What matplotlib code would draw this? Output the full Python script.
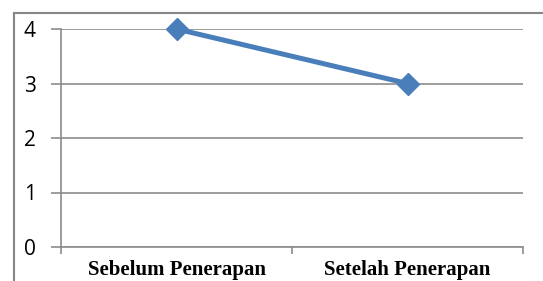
import matplotlib.pyplot as plt
from matplotlib.lines import Line2D

# data
categories = ['Sebelum Penerapan', 'Setelah Penerapan']
values = [4, 3]
yticks = [0, 1, 2, 3, 4]

W, H = 543, 281
fig = plt.figure(figsize=(W / 100, H / 100), dpi=100)

# outer chart border (cropped on right and bottom)
bx, by = 14 / W, (H - 13) / H
fig.add_artist(Line2D([bx, 1], [by, by], transform=fig.transFigure, color='#868686', linewidth=1.5))
fig.add_artist(Line2D([bx, bx], [0, by], transform=fig.transFigure, color='#868686', linewidth=1.5))

ax = fig.add_axes([61 / W, (H - 247) / H, (523 - 61) / W, (247 - 29) / H])
x = list(range(len(categories)))
ax.plot(x, values, color='#4a7ebb', linewidth=3.6, marker='D', markersize=11,
        markerfacecolor='#4a7ebb', markeredgecolor='#4a7ebb', zorder=3, clip_on=False)

ax.set_xlim(-0.5, len(categories) - 0.5)
ax.set_ylim(0, 4)
ax.set_yticks(yticks)
ax.set_yticklabels([str(v) for v in yticks], fontfamily='Open Sans', fontsize=15)
ax.set_xticks(x)
ax.set_xticklabels(categories, fontfamily='Liberation Serif', fontweight='bold', fontsize=15)
ax.set_xticks([i - 0.5 for i in range(len(categories) + 1)], minor=True)
ax.tick_params(axis='x', which='major', length=0, pad=9)
ax.tick_params(axis='x', which='minor', length=5, color='#8c8c8c', width=1.2)
ax.tick_params(axis='y', length=7, color='#8c8c8c', width=1.2, pad=11)

ax.grid(axis='y', color='#8c8c8c', linewidth=1.2)
ax.set_axisbelow(True)
for s in ['top', 'right']:
    ax.spines[s].set_visible(False)
for s in ['left', 'bottom']:
    ax.spines[s].set_color('#8c8c8c')
    ax.spines[s].set_linewidth(1.2)

fig.savefig('out.png', dpi=100)
